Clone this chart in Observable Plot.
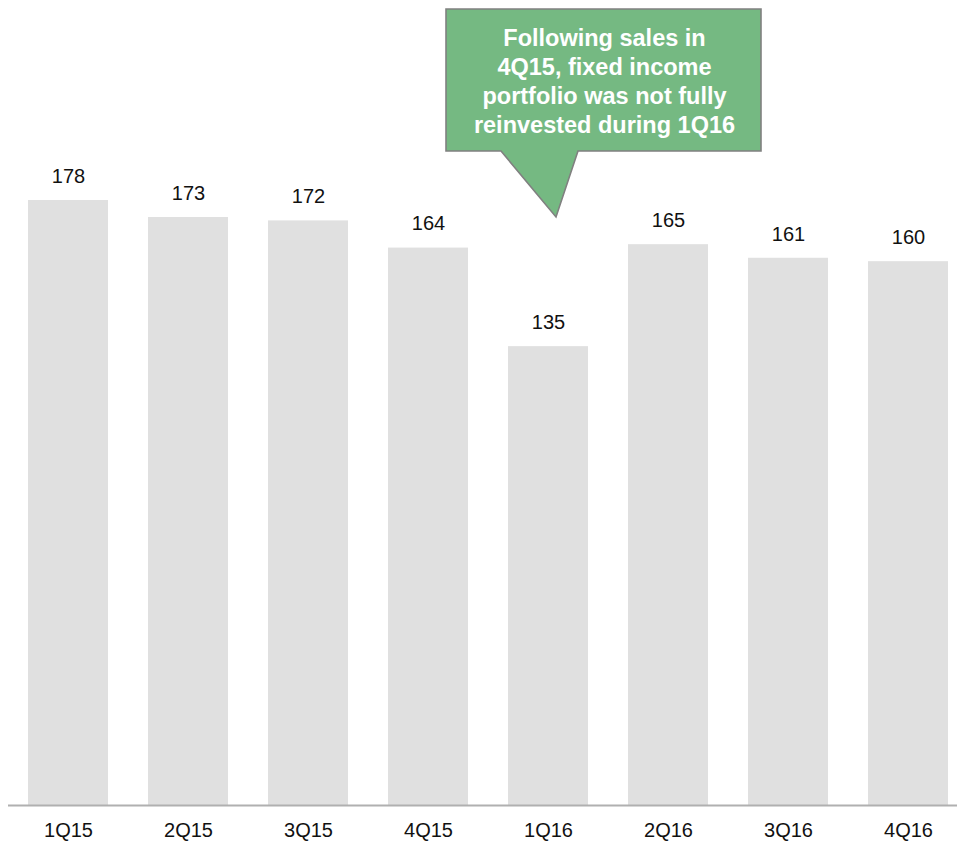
<!DOCTYPE html>
<html>
<head>
<meta charset="utf-8">
<script src="https://cdn.jsdelivr.net/npm/d3@7"></script>
<script src="https://cdn.jsdelivr.net/npm/@observablehq/plot@0.6"></script>
<style>
  html, body { margin: 0; padding: 0; background: #fff; }
  #chart { width: 957px; height: 841px; }
  svg { font-family: "Liberation Sans", Arial, sans-serif; }
</style>
</head>
<body>
<div id="chart"></div>
<script>
const quarters = ["1Q15", "2Q15", "3Q15", "4Q15", "1Q16", "2Q16", "3Q16", "4Q16"];
const values = [178, 173, 172, 164, 135, 165, 161, 160];
const calloutTarget = "1Q16";
const calloutTipValue = 173;
const calloutLines = ["Following sales in", "4Q15, fixed income", "portfolio was not fully", "reinvested during 1Q16"];

const data = quarters.map((q, i) => ({quarter: q, value: values[i]}));

function callout(index, scales, values, dimensions, context) {
  const x = scales.x, y = scales.y;
  const tx = x(calloutTarget) + x.bandwidth() / 2 + 8;
  const ty = y(calloutTipValue);
  const left = tx - 110, right = tx + 205, top = ty - 208, bottom = ty - 66;
  const g = d3.create("svg:g");
  g.append("path")
    .attr("d", `M${left},${top}H${right}V${bottom}H${tx + 22}L${tx},${ty}L${tx - 55},${bottom}H${left}Z`)
    .attr("fill", "#75b982")
    .attr("stroke", "#808080")
    .attr("stroke-width", 1.6)
    .attr("stroke-linejoin", "miter");
  const cx = (left + right) / 2 + 1;
  const lh = 29;
  const cy = top + 72;
  calloutLines.forEach((line, i) => {
    g.append("text")
      .attr("x", cx)
      .attr("y", cy + (i - (calloutLines.length - 1) / 2) * lh)
      .attr("dy", "0.35em")
      .attr("text-anchor", "middle")
      .attr("fill", "#ffffff")
      .attr("font-weight", "bold")
      .attr("font-size", 23.5)
      .attr("font-family", "Liberation Sans, Arial, sans-serif")
      .text(line);
  });
  return g.node();
}

const chart = Plot.plot({
  width: 957,
  height: 841,
  marginLeft: 8,
  marginRight: 0,
  marginTop: 0,
  marginBottom: 36,
  style: {fontFamily: "Liberation Sans, Arial, sans-serif", background: "#fff"},
  x: {domain: quarters, range: [8, 968], paddingInner: 1/3, paddingOuter: 1/6, label: null},
  y: {domain: [0, 178], range: [805, 200], axis: null},
  marks: [
    Plot.barY(data, {x: "quarter", y: "value", fill: "#e0e0e0"}),
    Plot.ruleY([0], {stroke: "#b0b0b0", strokeWidth: 2.2}),
    Plot.text(data, {x: "quarter", y: "value", text: d => String(d.value), dy: -24, fontSize: 20, fill: "#111"}),
    Plot.axisX({tickSize: 0, tickPadding: 17, fontSize: 20, color: "#111", label: null}),
    callout
  ]
});
document.getElementById("chart").appendChild(chart);
</script>
</body>
</html>
